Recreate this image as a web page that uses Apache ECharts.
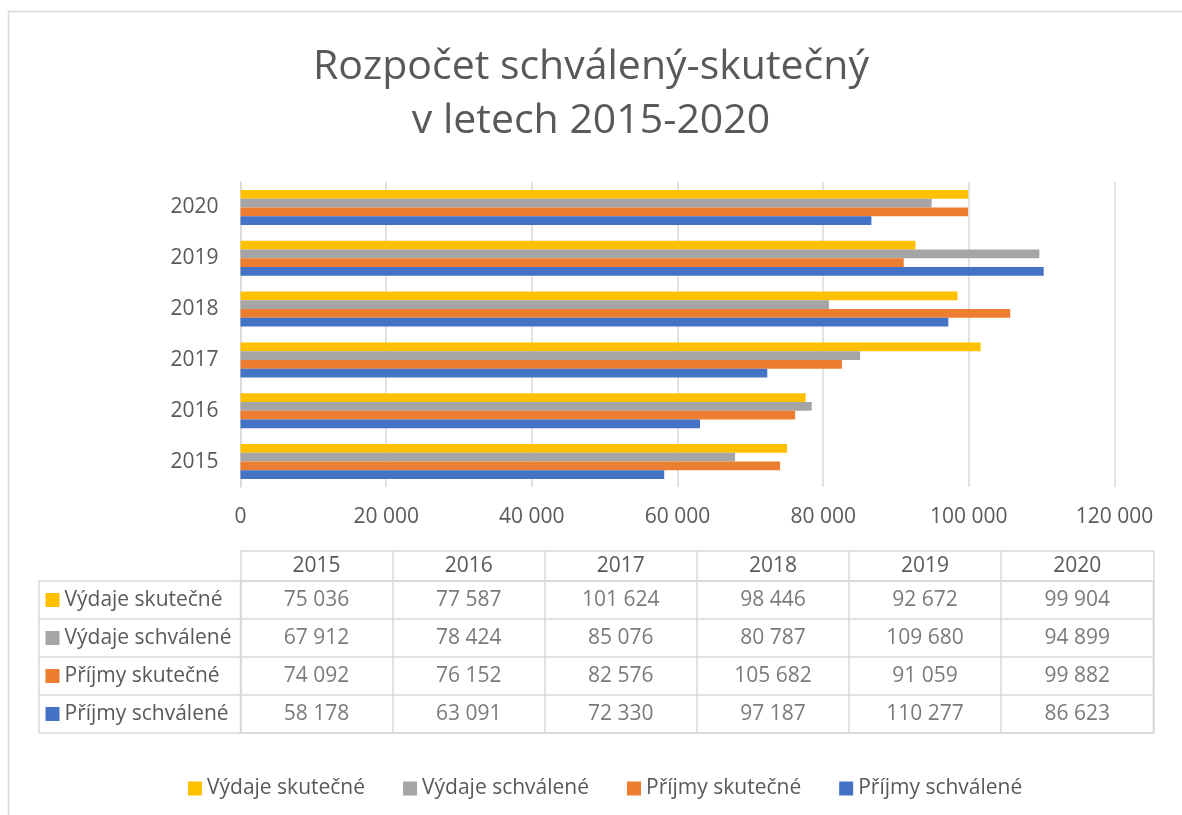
<!DOCTYPE html>
<html>
<head>
<meta charset="utf-8">
<script src="https://cdn.jsdelivr.net/npm/echarts@6/dist/echarts.min.js"></script>
<style>
html,body{margin:0;padding:0;background:#fff;}
#chart{width:1182px;height:815px;}
</style>
</head>
<body>
<div id="chart"></div>
<script>
// ---- data ----
const categories = ['2015', '2016', '2017', '2018', '2019', '2020'];
const seriesNames = ['Výdaje skutečné', 'Výdaje schválené', 'Příjmy skutečné', 'Příjmy schválené'];
const vydajeSkutecne = [75036, 77587, 101624, 98446, 92672, 99904];
const vydajeSchvalene = [67912, 78424, 85076, 80787, 109680, 94899];
const prijmySkutecne = [74092, 76152, 82576, 105682, 91059, 99882];
const prijmySchvalene = [58178, 63091, 72330, 97187, 110277, 86623];
const axisMin = 0, axisMax = 120000, axisInterval = 20000;
const titleText = 'Rozpočet schválený-skutečný\nv letech 2015-2020';

// ---- styling ----
const seriesValues = [vydajeSkutecne, vydajeSchvalene, prijmySkutecne, prijmySchvalene];
const colors = ['#FFC000', '#A5A5A5', '#ED7D31', '#4472C4'];
const textColor = '#595959';
const lineColor = '#d9d9d9';
const FONT = '"Open Sans", "DejaVu Sans", sans-serif';
const FS = 21;
const fmt = n => String(n).replace(/\B(?=(\d{3})+(?!\d))/g, ' ');

const barSeries = seriesNames.map((name, i) => ({
  type: 'bar',
  name: name,
  xAxisIndex: 0,
  yAxisIndex: 0,
  data: seriesValues[i],
  itemStyle: { color: colors[i] },
  barGap: '0%',
  barCategoryGap: '31%'
}));

const tableSeries = seriesNames.map((name, i) => ({
  type: 'scatter',
  name: 'tbl' + i,
  xAxisIndex: 1,
  yAxisIndex: 1,
  symbolSize: 1,
  itemStyle: { color: 'rgba(0,0,0,0)' },
  silent: true,
  data: categories.map((c, j) => [c, name, seriesValues[i][j]]),
  label: {
    show: true,
    position: 'inside',
    formatter: p => fmt(p.value[2]),
    color: textColor,
    fontFamily: FONT,
    fontSize: FS
  }
}));

const rich = { t: { color: textColor, fontFamily: FONT, fontSize: FS, padding: [0, 0, 0, 5] } };
colors.forEach((c, i) => { rich['s' + i] = { width: 14, height: 14, backgroundColor: c }; });

const chart = echarts.init(document.getElementById('chart'), null, { renderer: 'canvas' });
chart.setOption({
  backgroundColor: '#fff',
  animation: false,
  title: {
    text: titleText,
    left: 'center',
    top: 35,
    padding: [5, 0, 5, 11],
    textStyle: { color: textColor, fontFamily: FONT, fontSize: 41, fontWeight: 'normal', lineHeight: 54 }
  },
  graphic: [{
    type: 'rect',
    shape: { x: 8.5, y: 11.5, width: 1400, height: 1000 },
    style: { fill: 'none', stroke: lineColor, lineWidth: 1.5 },
    silent: true
  }],
  legend: {
    data: seriesNames,
    left: 183,
    top: 773,
    icon: 'rect',
    itemWidth: 14,
    itemHeight: 14,
    itemGap: 38,
    textStyle: { color: textColor, fontFamily: FONT, fontSize: FS }
  },
  grid: [
    { left: 240.5, right: 67.5, top: 182, bottom: 328, containLabel: false },
    { left: 240.5, right: 28.7, top: 581, bottom: 82, containLabel: false,
      show: true, borderColor: lineColor, borderWidth: 1.5 }
  ],
  xAxis: [
    {
      gridIndex: 0, type: 'value', min: axisMin, max: axisMax, interval: axisInterval,
      axisLine: { show: false }, axisTick: { show: false },
      splitLine: { show: true, lineStyle: { color: lineColor, width: 1.5 } },
      axisLabel: { color: textColor, fontFamily: FONT, fontSize: FS, margin: 20, formatter: v => fmt(v) }
    },
    {
      gridIndex: 1, type: 'category', data: categories, position: 'top', boundaryGap: true,
      axisLine: { show: true, lineStyle: { color: lineColor, width: 1.5 } },
      axisTick: { show: true, alignWithLabel: false, length: 30, lineStyle: { color: lineColor, width: 1.5 } },
      splitLine: { show: true, lineStyle: { color: lineColor, width: 1.5 } },
      axisLabel: { color: textColor, fontFamily: FONT, fontSize: FS, margin: 4 }
    },
    {
      gridIndex: 1, type: 'category', data: categories, position: 'top', offset: 30,
      axisLine: { show: true, lineStyle: { color: lineColor, width: 1.5 } },
      axisTick: { show: false }, axisLabel: { show: false }, splitLine: { show: false }
    }
  ],
  yAxis: [
    {
      gridIndex: 0, type: 'category', data: categories,
      axisLine: { show: true, lineStyle: { color: lineColor, width: 1.5 } },
      axisTick: { show: false },
      axisLabel: { color: textColor, fontFamily: FONT, fontSize: FS, margin: 22 }
    },
    {
      gridIndex: 1, type: 'category', data: seriesNames, inverse: true, boundaryGap: true,
      axisLine: { show: true, lineStyle: { color: lineColor, width: 1.5 } },
      axisTick: { show: true, alignWithLabel: false, length: 202, lineStyle: { color: lineColor, width: 1.5 } },
      splitLine: { show: true, lineStyle: { color: lineColor, width: 1.5 } },
      axisLabel: {
        align: 'left', margin: 195,
        formatter: (v, idx) => '{s' + idx + '|}{t|' + v + '}',
        rich: rich
      }
    },
    {
      gridIndex: 1, type: 'category', data: seriesNames, position: 'left', offset: 202,
      axisLine: { show: true, lineStyle: { color: lineColor, width: 1.5 } },
      axisTick: { show: false }, axisLabel: { show: false }, splitLine: { show: false }
    }
  ],
  series: barSeries.concat(tableSeries)
});
</script>
</body>
</html>
